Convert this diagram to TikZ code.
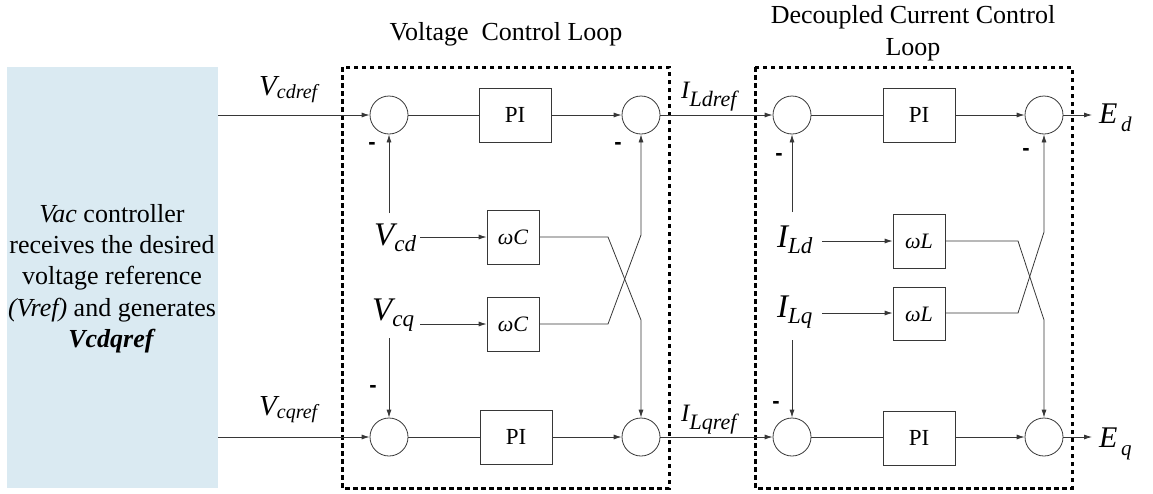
\documentclass[tikz,border=0pt]{standalone}
\usepackage{fontspec}
\setmainfont{Liberation Serif}
\newfontfamily\minusfont{Liberation Sans}
\usetikzlibrary{arrows.meta}
\definecolor{ctrlblue}{RGB}{218,234,242}
\definecolor{wirecol}{RGB}{55,55,55}
\newcommand\dqlab[5]{{\fontsize{#1}{#1}\selectfont\itshape #3}{\fontsize{#2}{#2}\selectfont\itshape\raisebox{-#5pt}{#4}}}
\begin{document}
\begin{tikzpicture}[x=1pt,y=-1pt,
  sum/.style={circle,draw=wirecol,line width=0.8pt,minimum size=38pt,inner sep=0pt},
  piblk/.style={rectangle,draw=wirecol,line width=0.8pt,inner sep=0pt,minimum width=72pt,minimum height=54pt,font=\fontsize{23}{23}\selectfont},
  gainblk/.style={rectangle,draw=wirecol,line width=0.8pt,inner sep=0pt,minimum width=52pt,minimum height=54pt,font=\fontsize{22}{22}\selectfont\itshape},
  conn/.style={draw=wirecol,line width=0.8pt},
  arr/.style={conn,-{Latex[length=8pt,width=5pt]}},
  loopbox/.style={draw=black,line width=3pt,dash pattern=on 4.5pt off 3.5pt},
  lbl/.style={anchor=base west,inner sep=0pt},
  minus/.style={inner sep=0pt,font=\minusfont\bfseries\fontsize{22}{22}\selectfont},
  ttl/.style={anchor=base,inner sep=0pt,font=\fontsize{26}{26}\selectfont},
  ctext/.style={anchor=base,inner sep=0pt,font=\fontsize{26}{26}\selectfont}]
\useasboundingbox (0,0) rectangle (1153,493);

% controller block
\node[fill=ctrlblue,minimum width=211pt,minimum height=421pt,inner sep=0pt] (ctrl) at (112.5,277.5) {};
\node[ctext] (t1) at (112,222) {\textit{Vac} controller};
\node[ctext] (t2) at (112,253) {receives the desired};
\node[ctext] (t3) at (112,284) {voltage reference};
\node[ctext] (t4) at (112,316) {\textit{(Vref)} and generates};
\node[ctext] (t5) at (112,347) {\textbf{\textit{Vcdqref}}};

% loop frames
\draw[loopbox] (342,67) rectangle (669,488);
\draw[loopbox] (755,67) rectangle (1072,488);
\node[ttl] (ttlv) at (506,40) {Voltage\hspace{0.5em}Control Loop};
\node[ttl] (ttlc1) at (913,23) {Decoupled Current Control};
\node[ttl] (ttlc2) at (913,55) {Loop};

% voltage loop blocks
\node[sum] (s1) at (389,115) {};
\node[piblk] (pi1) at (515,115) {PI};
\node[sum] (s2) at (641,115) {};
\node[gainblk] (wc1) at (513,237) {ωC};
\node[gainblk] (wc2) at (513,324) {ωC};
\node[sum] (s3) at (389,437) {};
\node[piblk] (pi2) at (516,437) {PI};
\node[sum] (s4) at (641,437) {};

% current loop blocks
\node[sum] (s5) at (792,115) {};
\node[piblk] (pi3) at (919,115) {PI};
\node[sum] (s6) at (1044,115) {};
\node[gainblk] (wl1) at (919,241) {ωL};
\node[gainblk,minimum height=53pt] (wl2) at (919,314) {ωL};
\node[sum] (s7) at (792,437) {};
\node[piblk] (pi4) at (919,438) {PI};
\node[sum] (s8) at (1044,437) {};

% labels
\node[lbl] (vcdref) at (259,95) {\dqlab{29}{20}{V}{cdref}{3}};
\node[lbl] (vcqref) at (259,415) {\dqlab{29}{20}{V}{cqref}{3}};
\node[lbl] (ildref) at (681,98) {\dqlab{25}{22}{I}{Ldref}{8}};
\node[lbl] (ilqref) at (681,421) {\dqlab{25}{22}{I}{Lqref}{8}};
\node[lbl] (vcd) at (374,245) {\dqlab{33}{23}{V}{cd}{6}};
\node[lbl] (vcq) at (372,320) {\dqlab{33}{23}{V}{cq}{6}};
\node[lbl] (ild) at (777,247) {\dqlab{33}{23}{I}{Ld}{6}};
\node[lbl] (ilq) at (777,317) {\dqlab{33}{23}{I}{Lq}{6}};
\node[lbl] (ed) at (1099,123) {\dqlab{30}{21}{E}{\,d}{8}};
\node[lbl] (eq) at (1099,447) {\dqlab{30}{21}{E}{\,q}{8}};

% minus signs
\node[minus] (m1) at (372,146) {-};
\node[minus] (m2) at (618,146) {-};
\node[minus] (m3) at (373,389) {-};
\node[minus] (m5) at (779,157) {-};
\node[minus] (m6) at (1026,152) {-};
\node[minus] (m7) at (776,405) {-};

% output coordinates
\coordinate (edo) at (1092,115);
\coordinate (eqo) at (1092,437);

% voltage loop wiring
\draw[arr] (ctrl.east |- s1) -- (s1.west);
\draw[conn] (s1.east) -- (pi1.west);
\draw[arr] (pi1.east) -- (s2.west);
\draw[arr] (ctrl.east |- s3) -- (s3.west);
\draw[conn] (s3.east) -- (pi2.west);
\draw[arr] (pi2.east) -- (s4.west);
\draw[arr] (420,237) -- (wc1.west);
\draw[arr] (420,324) -- (wc2.west);
\draw[arr] (389,213) -- (s1.south);
\draw[arr] (389,338) -- (s3.north);
\draw[arr] (wc1.east) -- (608,237) -- (641,320) -- (s4.north);
\draw[arr] (wc2.east) -- (608,324) -- (641,235) -- (s2.south);

% links between loops
\draw[arr] (s2.east) -- (s5.west);
\draw[arr] (s4.east) -- (s7.west);

% current loop wiring
\draw[conn] (s5.east) -- (pi3.west);
\draw[arr] (pi3.east) -- (s6.west);
\draw[conn] (s7.east) -- (pi4.west |- s7);
\draw[arr] (pi4.east |- s8) -- (s8.west);
\draw[arr] (822,241) -- (wl1.west);
\draw[arr] (822,313) -- (wl2.west |- 0,313);
\draw[arr] (792,212) -- (s5.south);
\draw[arr] (792,340) -- (s7.north);
\draw[arr] (wl1.east) -- (1018,241) -- (1044,320) -- (s8.north);
\draw[arr] (wl2.east |- 0,313) -- (1018,313) -- (1044,232) -- (s6.south);
\draw[arr] (s6.east) -- (edo);
\draw[arr] (s8.east) -- (eqo);
\end{tikzpicture}
\end{document}
